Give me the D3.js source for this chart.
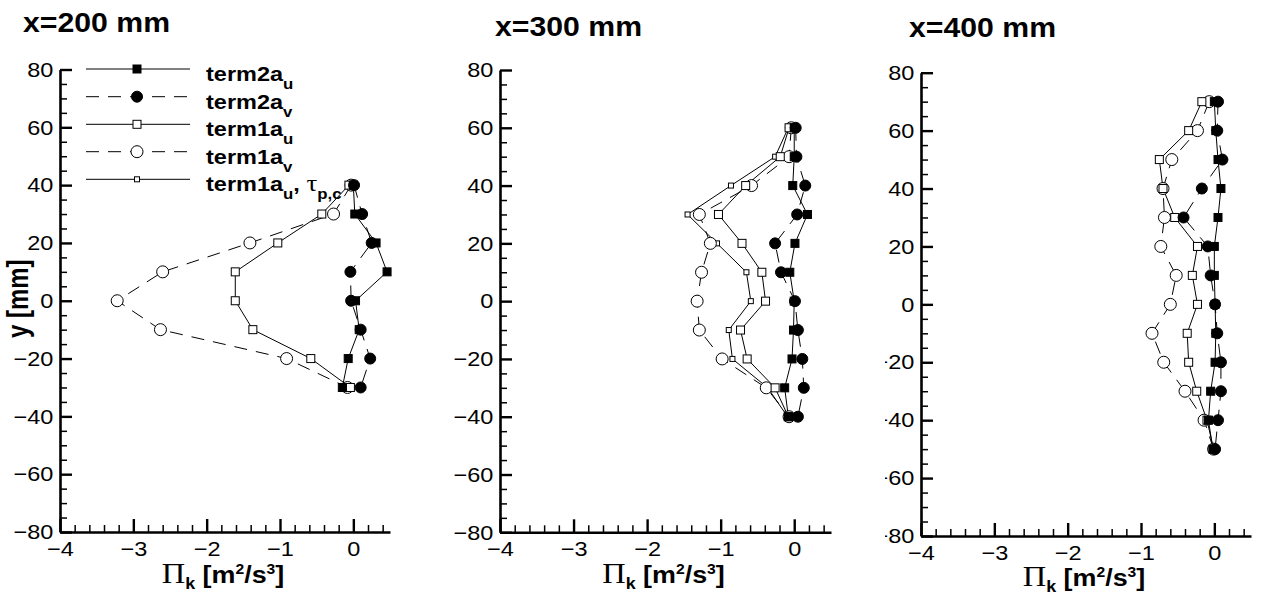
<!DOCTYPE html>
<html><head><meta charset="utf-8">
<script src="https://cdn.jsdelivr.net/npm/d3@7"></script>
<style>
html,body{margin:0;padding:0;background:#fff;}
svg{display:block;}
</style></head>
<body>
<svg id="chart" width="1262" height="595"></svg>
<script>
// ---------- DATA ----------
const seriesNames = ["term2a_u", "term2a_v", "term1a_u", "term1a_v", "term1a_u_tau"];
const panelTitles = ["x=200 mm", "x=300 mm", "x=400 mm"];
const xTickValues = [-4, -3, -2, -1, 0];
const yTickValues = [-80, -60, -40, -20, 0, 20, 40, 60, 80];

const p1_y = [40, 30, 20, 10, 0, -10, -20, -30];
const p1_term2a_u = [0.0, 0.02, 0.31, 0.46, 0.03, 0.08, -0.07, -0.15];
const p1_term2a_v = [0.01, 0.12, 0.25, -0.04, -0.03, 0.10, 0.23, 0.10];
const p1_term1a_u = [-0.06, -0.43, -1.03, -1.61, -1.61, -1.37, -0.58, -0.04];
const p1_term1a_v = [-0.03, -0.27, -1.41, -2.60, -3.22, -2.63, -0.91, -0.08];

const p2_y = [60, 50, 40, 30, 20, 10, 0, -10, -20, -30, -40];
const p2_term2a_u = [0.0, 0.0, -0.02, 0.18, 0.01, -0.06, 0.0, -0.01, -0.03, -0.13, -0.08];
const p2_term2a_v = [0.02, 0.03, 0.15, 0.04, -0.26, -0.18, 0.01, 0.05, 0.11, 0.13, 0.05];
const p2_term1a_u = [-0.07, -0.19, -0.66, -1.03, -0.71, -0.44, -0.39, -0.73, -0.64, -0.26, -0.08];
const p2_term1a_v = [-0.04, -0.07, -0.58, -1.29, -1.14, -1.26, -1.32, -1.29, -0.98, -0.38, -0.07];
const p2_term1a_u_tau = [-0.08, -0.26, -0.86, -1.45, -1.05, -0.65, -0.59, -0.89, -0.84, -0.36, -0.09];

const p3_y = [70, 60, 50, 40, 30, 20, 10, 0, -10, -20, -30, -40, -50];
const p3_term2a_u = [0.0, 0.02, 0.05, 0.09, 0.05, 0.0, 0.0, 0.01, 0.02, 0.01, -0.05, -0.08, -0.02];
const p3_term2a_v = [0.05, 0.04, 0.11, -0.17, -0.42, -0.09, -0.05, 0.01, 0.04, 0.09, 0.09, 0.05, 0.01];
const p3_term1a_u = [-0.17, -0.35, -0.75, -0.70, -0.54, -0.23, -0.30, -0.23, -0.37, -0.35, -0.24, -0.10, -0.01];
const p3_term1a_v = [-0.07, -0.23, -0.58, -0.70, -0.68, -0.73, -0.52, -0.60, -0.85, -0.69, -0.40, -0.14, -0.01];

// ---------- STYLE / LAYOUT ----------
const SX = 1.12;
const FONT = "'Liberation Sans', Arial, Helvetica, sans-serif";
const SERIF = "'Liberation Serif', 'Times New Roman', serif";
const styles = {
  term2a_u:     {shape: "square", size: 8,   fill: "#000", dash: null},
  term2a_v:     {shape: "circle", size: 11,  fill: "#000", dash: "13,9"},
  term1a_u:     {shape: "square", size: 8,   fill: "#fff", dash: null},
  term1a_v:     {shape: "circle", size: 12,  fill: "#fff", dash: "13,9"},
  term1a_u_tau: {shape: "square", size: 5,   fill: "#fff", dash: null}
};
const panels = [
  {title: panelTitles[0], tx: 23, ty: 32, x0: 60, x1: 390, yTop: 69.5, yBot: 532, ylab: true, clipLeft: null,
   y: p1_y, data: {term2a_u: p1_term2a_u, term2a_v: p1_term2a_v, term1a_u: p1_term1a_u, term1a_v: p1_term1a_v}},
  {title: panelTitles[1], tx: 495, ty: 36, x0: 500, x1: 831, yTop: 70, yBot: 532.3, ylab: false, clipLeft: null,
   y: p2_y, data: {term2a_u: p2_term2a_u, term2a_v: p2_term2a_v, term1a_u: p2_term1a_u, term1a_v: p2_term1a_v, term1a_u_tau: p2_term1a_u_tau}},
  {title: panelTitles[2], tx: 909, ty: 37, x0: 921, x1: 1251, yTop: 72.7, yBot: 536, ylab: false, clipLeft: 885,
   y: p3_y, data: {term2a_u: p3_term2a_u, term2a_v: p3_term2a_v, term1a_u: p3_term1a_u, term1a_v: p3_term1a_v}}
];

const svg = d3.select("#chart");
const defs = svg.append("defs");

function stext(g, x, y, anchor) {
  return g.append("text")
    .attr("transform", `translate(${x},${y}) scale(${SX},1)`)
    .attr("text-anchor", anchor || "start")
    .style("font-family", FONT);
}

function drawMarker(g, shape, size, fill, cx, cy) {
  if (shape === "square") {
    g.append("rect").attr("x", cx - size / 2).attr("y", cy - size / 2)
      .attr("width", size).attr("height", size)
      .attr("fill", fill).attr("stroke", "#000").attr("stroke-width", 1);
  } else {
    g.append("circle").attr("cx", cx).attr("cy", cy).attr("r", size / 2)
      .attr("fill", fill).attr("stroke", "#000").attr("stroke-width", 1);
  }
}

panels.forEach((p, pi) => {
  const x = d3.scaleLinear().domain([-4, 0.5]).range([p.x0, p.x1]);
  const y = d3.scaleLinear().domain([-80, 80]).range([p.yBot, p.yTop]);
  const g = svg.append("g");

  // title
  stext(g, p.tx, p.ty).text(p.title).style("font-size", "27px").style("font-weight", "bold");

  // minor ticks
  const yMinor = d3.range(-80, 81, 5).filter(v => v % 20 !== 0);
  g.append("g").attr("transform", `translate(${p.x0},0)`)
    .call(d3.axisLeft(y).tickValues(yMinor).tickSizeInner(-7).tickSizeOuter(0).tickFormat(""))
    .call(a => a.select(".domain").remove())
    .call(a => a.selectAll("line").attr("stroke-width", 1.5));
  const xMinor = d3.range(-4, 0.5001, 0.2).map(v => Math.round(v * 10) / 10).filter(v => Math.abs(v - Math.round(v)) > 1e-6);
  g.append("g").attr("transform", `translate(0,${p.yBot})`)
    .call(d3.axisBottom(x).tickValues(xMinor).tickSizeInner(-7).tickSizeOuter(0).tickFormat(""))
    .call(a => a.select(".domain").remove())
    .call(a => a.selectAll("line").attr("stroke-width", 1.5));

  // major axes
  const ya = g.append("g").attr("transform", `translate(${p.x0},0)`)
    .call(d3.axisLeft(y).tickValues(yTickValues).tickSizeInner(-12).tickSizeOuter(0).tickPadding(6).tickFormat(d3.format("d")));
  ya.select(".domain").attr("stroke-width", 2.6);
  ya.selectAll("line").attr("stroke-width", 2.4);
  ya.selectAll("text").attr("transform", `scale(${SX},1)`).style("font-size", "21px").style("font-family", FONT).attr("fill", "#000");
  if (p.clipLeft !== null) {
    const cid = "clip" + pi;
    defs.append("clipPath").attr("id", cid).append("rect")
      .attr("x", p.clipLeft - p.x0).attr("y", -1000).attr("width", 2000).attr("height", 3000);
    ya.attr("clip-path", `url(#${cid})`);
  }

  const xa = g.append("g").attr("transform", `translate(0,${p.yBot})`)
    .call(d3.axisBottom(x).tickValues(xTickValues).tickSizeInner(-13).tickSizeOuter(0).tickPadding(9).tickFormat(d3.format("d")));
  xa.select(".domain").attr("stroke-width", 2.6);
  xa.selectAll("line").attr("stroke-width", 2.4);
  xa.selectAll("text").attr("transform", `scale(${SX},1)`).style("font-size", "21px").style("font-family", FONT).attr("fill", "#000");

  // x axis label
  const labY = Math.min(p.yBot + 51, 586);
  const xl = stext(g, (p.x0 + p.x1) / 2 - 2, labY, "middle").style("font-weight", "bold").style("font-size", "24px");
  xl.append("tspan").text("\u03A0").style("font-family", SERIF).style("font-weight", "normal").style("font-size", "29px");
  xl.append("tspan").text("k").attr("dy", 6).style("font-size", "16px");
  xl.append("tspan").text(" [m").attr("dy", -6);
  xl.append("tspan").text("2").attr("dy", -9).style("font-size", "14px");
  xl.append("tspan").text("/s").attr("dy", 9);
  xl.append("tspan").text("3").attr("dy", -9).style("font-size", "14px");
  xl.append("tspan").text("]").attr("dy", 9);

  // y axis label
  if (p.ylab) {
    g.append("text")
      .attr("transform", `translate(28,${y(0) - 2}) rotate(-90) scale(1,1.2)`)
      .attr("text-anchor", "middle")
      .style("font-family", FONT).style("font-weight", "bold").style("font-size", "24px")
      .text("y [mm]");
  }

  // series lines
  const names = seriesNames.filter(n => p.data[n]);
  names.forEach(n => {
    const vals = p.data[n];
    const pts = vals.map((v, i) => [v, p.y[i]]);
    const line = d3.line().x(d => x(d[0])).y(d => y(d[1]));
    g.append("path").datum(pts).attr("d", line)
      .attr("fill", "none").attr("stroke", "#000").attr("stroke-width", 1)
      .attr("stroke-dasharray", styles[n].dash);
  });
  // markers (open first, filled on top)
  const order = ["term1a_u_tau", "term1a_v", "term1a_u", "term2a_u", "term2a_v"].filter(n => p.data[n]);
  order.forEach(n => {
    const st = styles[n];
    const mg = g.append("g");
    p.data[n].forEach((v, i) => drawMarker(mg, st.shape, st.size, st.fill, x(v), y(p.y[i])));
  });
});

// ---------- LEGEND (panel 1) ----------
const legendRows = [69, 96.7, 124.3, 151.7, 179.3];
const lg = svg.append("g");
seriesNames.forEach((n, i) => {
  const st = styles[n];
  const yy = legendRows[i];
  lg.append("line").attr("x1", 86).attr("x2", 190).attr("y1", yy).attr("y2", yy)
    .attr("stroke", "#000").attr("stroke-width", 1).attr("stroke-dasharray", st.dash);
  drawMarker(lg, st.shape, st.size, st.fill, 137, yy);
  const t = stext(lg, 206, yy + 12).style("font-weight", "bold").style("font-size", "21px");
  const base = n.startsWith("term2a") ? "term2a" : "term1a";
  const sub = n.endsWith("_v") ? "v" : "u";
  t.append("tspan").text(base);
  t.append("tspan").text(sub).attr("dy", 8).style("font-size", "15px");
  if (n === "term1a_u_tau") {
    t.append("tspan").text(", ").attr("dy", -8);
    t.append("tspan").text("\u03C4").style("font-family", SERIF).style("font-weight", "normal").style("font-size", "24px");
    t.append("tspan").text("p,c").attr("dy", 8).style("font-size", "15px");
  }
});
</script>
</body></html>
